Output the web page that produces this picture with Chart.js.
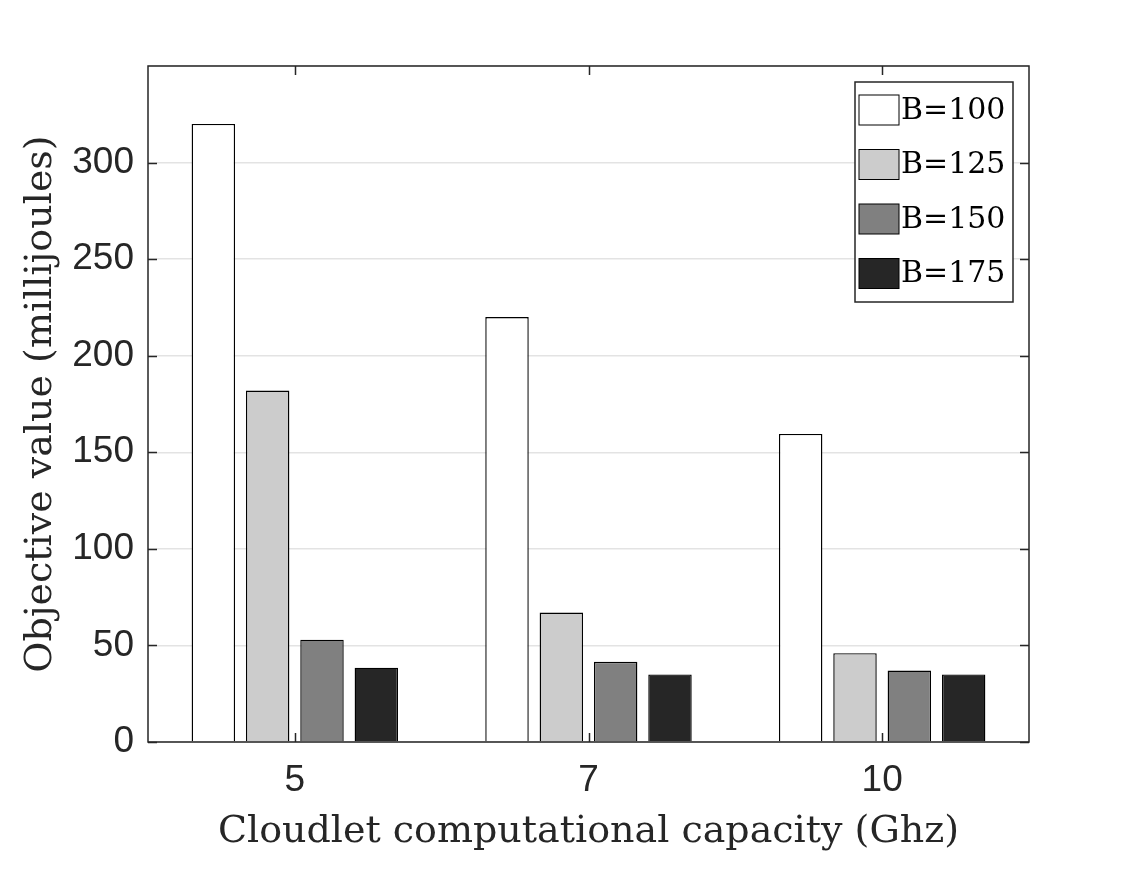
<!DOCTYPE html>
<html>
<head>
<meta charset="utf-8">
<script src="https://cdn.jsdelivr.net/npm/chart.js@4/dist/chart.umd.min.js"></script>
<style>
  html, body { margin: 0; padding: 0; background: #fff; }
  #wrap { width: 1138px; height: 885px; }
</style>
</head>
<body>
<div id="wrap"><canvas id="c"></canvas></div>
<script>
// data
const capacities = ['5', '7', '10'];
const seriesNames = ['B=100', 'B=125', 'B=150', 'B=175'];
const b100 = [320, 220, 159.5];
const b125 = [182, 67, 46];
const b150 = [53, 41.5, 37];
const b175 = [38.5, 35, 35];
const yTicks = [0, 50, 100, 150, 200, 250, 300];

const fills = ['#ffffff', '#cccccc', '#808080', '#262626'];
const serif = '"DejaVu Serif", "Liberation Serif", serif';
const sans = '"Liberation Sans", Arial, sans-serif';

// box, inward ticks and legend like the matlab figure
const frame = {
  id: 'frame',
  afterDatasetsDraw(chart) {
    const { ctx, chartArea: a, scales: { x, y } } = chart;
    ctx.save();
    ctx.strokeStyle = '#262626';
    ctx.lineWidth = 1.5;
    ctx.strokeRect(a.left, a.top, a.right - a.left, a.bottom - a.top);
    ctx.beginPath();
    yTicks.forEach(v => {
      const py = Math.round(y.getPixelForValue(v)) + 0.5;
      ctx.moveTo(a.left, py); ctx.lineTo(a.left + 9, py);
      ctx.moveTo(a.right, py); ctx.lineTo(a.right - 9, py);
    });
    capacities.forEach((c, i) => {
      const px = Math.round(x.getPixelForValue(i)) + 0.5;
      ctx.moveTo(px, a.bottom); ctx.lineTo(px, a.bottom - 9);
      ctx.moveTo(px, a.top); ctx.lineTo(px, a.top + 9);
    });
    ctx.stroke();

    // legend
    const lx = 855, ly = 82, lw = 158, lh = 220;
    ctx.fillStyle = '#fff';
    ctx.fillRect(lx, ly, lw, lh);
    ctx.lineWidth = 1.5;
    ctx.strokeRect(lx, ly, lw, lh);
    ctx.font = '30px ' + serif;
    ctx.textBaseline = 'middle';
    chart.data.datasets.forEach((ds, i) => {
      const cy = ly + 28 + i * 54.5;
      ctx.fillStyle = ds.backgroundColor;
      ctx.fillRect(859, cy - 15, 40, 30);
      ctx.strokeStyle = '#000';
      ctx.lineWidth = 1;
      ctx.strokeRect(859, cy - 15, 40, 30);
      ctx.fillStyle = '#000';
      ctx.fillText(ds.label, 901, cy + 1);
    });
    ctx.restore();
  }
};

new Chart(document.getElementById('c'), {
  type: 'bar',
  data: {
    labels: capacities,
    datasets: [b100, b125, b150, b175].map((vals, i) => ({
      label: seriesNames[i],
      data: vals,
      backgroundColor: fills[i],
      borderColor: '#000',
      borderWidth: 1.4,
      categoryPercentage: 0.74,
      barPercentage: 0.8,
    })),
  },
  options: {
    responsive: true,
    maintainAspectRatio: false,
    animation: false,
    layout: { padding: { left: 0, top: 66, right: 109, bottom: 0 } },
    plugins: { legend: { display: false }, tooltip: { enabled: false } },
    scales: {
      x: {
        grid: { display: false, drawTicks: false },
        border: { display: false },
        ticks: { color: '#262626', font: { family: sans, size: 37 }, padding: 17 },
        title: {
          display: true,
          text: 'Cloudlet computational capacity (Ghz)',
          color: '#262626',
          font: { family: serif, size: 38 },
          padding: { top: 0, bottom: 30 },
        },
        afterFit(s) { s.height = 143; },
      },
      y: {
        min: 0,
        max: 350,
        grid: { color: '#e3e3e3', lineWidth: 1.5, drawTicks: false },
        border: { display: false },
        ticks: {
          stepSize: 50,
          color: '#262626',
          font: { family: sans, size: 37 },
          padding: 14,
          callback: v => (yTicks.includes(v) ? v : ''),
        },
        title: {
          display: true,
          text: 'Objective value (millijoules)',
          color: '#262626',
          font: { family: serif, size: 38 },
          padding: { top: 18, bottom: 0 },
        },
        afterFit(s) { s.width = 148; },
      },
    },
  },
  plugins: [frame],
});
</script>
</body>
</html>
